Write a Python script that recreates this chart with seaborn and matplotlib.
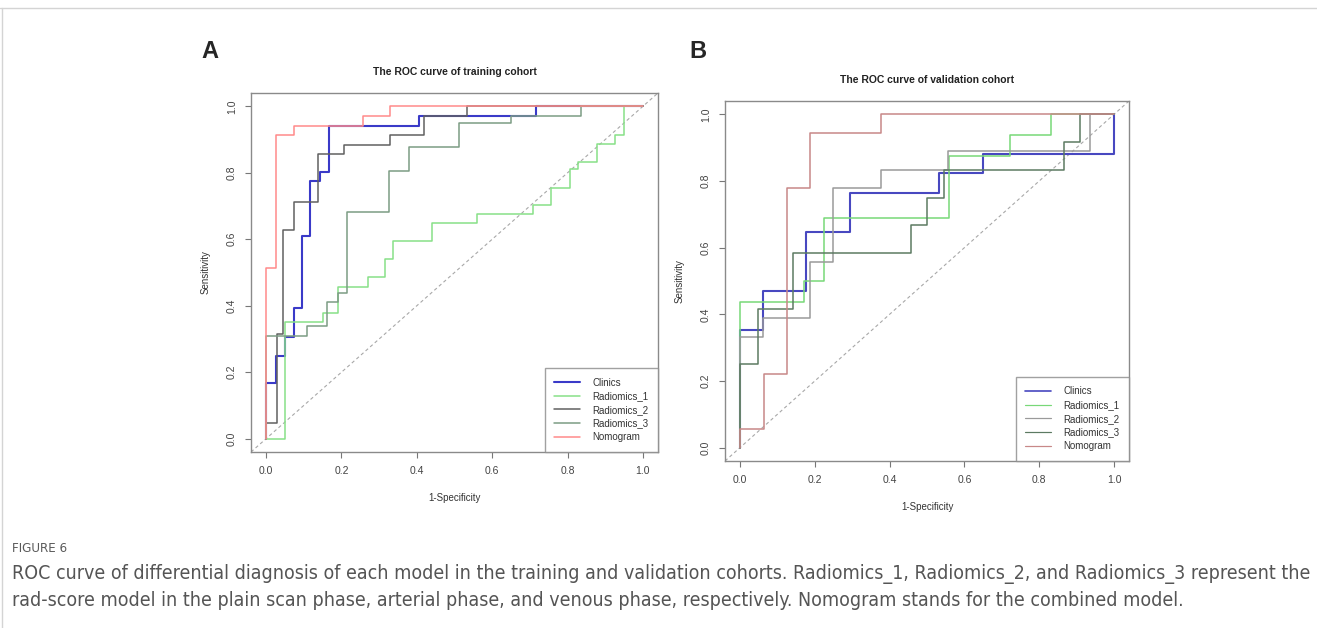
import matplotlib
matplotlib.use("Agg")
import matplotlib.pyplot as plt
from matplotlib.lines import Line2D
from matplotlib import font_manager
import pandas as pd
import seaborn as sns

models = ["Clinics", "Radiomics_1", "Radiomics_2", "Radiomics_3", "Nomogram"]

# Training cohort: corner points of each ROC staircase (1-specificity, sensitivity)
train_clinics_fpr = [0, 0, 0.026, 0.049, 0.073, 0.095, 0.117, 0.143, 0.167, 0.406, 0.715, 1.0]
train_clinics_tpr = [0, 0.168, 0.250, 0.307, 0.392, 0.610, 0.775, 0.803, 0.941, 0.971, 1.0, 1.0]
train_rad1_fpr = [0, 0.050, 0.152, 0.192, 0.270, 0.316, 0.338, 0.440, 0.560, 0.707, 0.756,
                  0.806, 0.829, 0.877, 0.927, 0.950, 1.0]
train_rad1_tpr = [0, 0.350, 0.377, 0.457, 0.487, 0.540, 0.595, 0.650, 0.676, 0.703, 0.755,
                  0.811, 0.833, 0.888, 0.915, 1.0, 1.0]
train_rad2_fpr = [0, 0, 0.028, 0.046, 0.073, 0.139, 0.208, 0.329, 0.420, 0.534, 1.0]
train_rad2_tpr = [0, 0.047, 0.314, 0.628, 0.713, 0.855, 0.883, 0.913, 0.970, 1.0, 1.0]
train_rad3_fpr = [0, 0, 0.108, 0.161, 0.190, 0.216, 0.325, 0.378, 0.513, 0.650, 0.837, 1.0]
train_rad3_tpr = [0, 0.310, 0.340, 0.412, 0.437, 0.683, 0.805, 0.878, 0.950, 0.971, 1.0, 1.0]
train_nomo_fpr = [0, 0, 0.026, 0.073, 0.256, 0.329, 1.0]
train_nomo_tpr = [0, 0.513, 0.913, 0.941, 0.971, 1.0, 1.0]

# Validation cohort
valid_clinics_fpr = [0, 0, 0.062, 0.176, 0.295, 0.533, 0.649, 1.0]
valid_clinics_tpr = [0, 0.353, 0.471, 0.647, 0.765, 0.824, 0.882, 1.0]
valid_rad1_fpr = [0, 0, 0.170, 0.224, 0.558, 0.723, 0.832, 1.0]
valid_rad1_tpr = [0, 0.4375, 0.500, 0.6875, 0.875, 0.9375, 1.0, 1.0]
valid_rad2_fpr = [0, 0, 0.062, 0.187, 0.250, 0.377, 0.555, 0.937, 1.0]
valid_rad2_tpr = [0, 0.333, 0.389, 0.556, 0.778, 0.833, 0.889, 1.0, 1.0]
valid_rad3_fpr = [0, 0, 0.049, 0.141, 0.457, 0.500, 0.546, 0.867, 0.910, 1.0]
valid_rad3_tpr = [0, 0.250, 0.417, 0.583, 0.667, 0.750, 0.833, 0.917, 1.0, 1.0]
valid_nomo_fpr = [0, 0, 0.063, 0.126, 0.188, 0.377, 1.0]
valid_nomo_tpr = [0, 0.056, 0.222, 0.778, 0.944, 1.0, 1.0]

train_curves = {
    "Clinics": (train_clinics_fpr, train_clinics_tpr),
    "Radiomics_1": (train_rad1_fpr, train_rad1_tpr),
    "Radiomics_2": (train_rad2_fpr, train_rad2_tpr),
    "Radiomics_3": (train_rad3_fpr, train_rad3_tpr),
    "Nomogram": (train_nomo_fpr, train_nomo_tpr),
}
valid_curves = {
    "Clinics": (valid_clinics_fpr, valid_clinics_tpr),
    "Radiomics_1": (valid_rad1_fpr, valid_rad1_tpr),
    "Radiomics_2": (valid_rad2_fpr, valid_rad2_tpr),
    "Radiomics_3": (valid_rad3_fpr, valid_rad3_tpr),
    "Nomogram": (valid_nomo_fpr, valid_nomo_tpr),
}

train_palette = {"Clinics": "#3a3ac8", "Radiomics_1": "#88e088", "Radiomics_2": "#606060",
                 "Radiomics_3": "#7c9c84", "Nomogram": "#ff8a8a"}
valid_palette = {"Clinics": "#4848c0", "Radiomics_1": "#78d878", "Radiomics_2": "#9a9a9a",
                 "Radiomics_3": "#5c7a62", "Nomogram": "#c88888"}
line_widths = {"Clinics": 1.5, "Radiomics_1": 1.1, "Radiomics_2": 1.1,
               "Radiomics_3": 1.1, "Nomogram": 1.1}


def to_frame(curves):
    rows = []
    for name in models:
        fpr, tpr = curves[name]
        for x, y in zip(fpr, tpr):
            rows.append({"model": name, "fpr": x, "tpr": y})
    return pd.DataFrame(rows)


sns.set_style("white")
plt.rcParams["font.family"] = ["Liberation Sans", "DejaVu Sans"]

W, H = 1317, 628
fig = plt.figure(figsize=(W / 100, H / 100), dpi=100)


def px_axes(left, top, right, bottom):
    return [left / W, 1 - bottom / H, (right - left) / W, (bottom - top) / H]


axA = fig.add_axes(px_axes(251, 93, 658, 452))
axB = fig.add_axes(px_axes(725, 101, 1129, 461))


def draw_panel(ax, curves, palette, title, legend_scale):
    ax.plot([-0.04, 1.04], [-0.04, 1.04], ls=(0, (3, 2.5)), color="#a8a8a8", lw=0.8, zorder=1)
    df = to_frame(curves)
    sns.lineplot(data=df, x="fpr", y="tpr", hue="model", hue_order=models,
                 palette=palette, sort=False, estimator=None,
                 drawstyle="steps-post", ax=ax, legend=False)
    for line in ax.lines[1:]:
        for name in models:
            if matplotlib.colors.same_color(line.get_color(), palette[name]):
                line.set_linewidth(line_widths[name])
    ax.set_xlim(-0.04, 1.04)
    ax.set_ylim(-0.04, 1.04)
    ticks = [0.0, 0.2, 0.4, 0.6, 0.8, 1.0]
    ax.set_xticks(ticks)
    ax.set_yticks(ticks)
    ax.set_xticklabels([f"{t:.1f}" for t in ticks])
    ax.set_yticklabels([f"{t:.1f}" for t in ticks], rotation=90, va="center")
    ax.tick_params(axis="both", length=4, width=0.8, color="#777777", labelsize=7.5,
                   labelcolor="#444444", pad=6, bottom=True, left=True)
    for s in ax.spines.values():
        s.set_color("#8a8a8a")
        s.set_linewidth(1.0)
    ax.set_xlabel("1-Specificity", fontsize=7, color="#333333")
    ax.set_ylabel("Sensitivity", fontsize=7, color="#333333")
    ax.xaxis.set_label_coords(0.5, -0.115)
    ax.yaxis.set_label_coords(-0.10, 0.5)
    ax.set_title(title, fontsize=7.5, fontweight="bold", color="#222222", pad=13)
    handles = [Line2D([], [], color=palette[m], lw=line_widths[m] * legend_scale) for m in models]
    leg = ax.legend(handles, models, loc="lower right", frameon=True, fancybox=False,
                    edgecolor="#8a8a8a", fontsize=7, borderaxespad=0, handlelength=2.6,
                    handletextpad=1.3, borderpad=1.0, labelspacing=0.38)
    leg.get_frame().set_linewidth(1.0)
    for t in leg.get_texts():
        t.set_color("#333333")


draw_panel(axA, train_curves, train_palette, "The ROC curve of training cohort", 1.0)
draw_panel(axB, valid_curves, valid_palette, "The ROC curve of validation cohort", 0.8)

fig.text(210 / W, 1 - 52 / H, "A", fontsize=17, fontweight="bold", ha="center", va="center")
fig.text(698 / W, 1 - 52 / H, "B", fontsize=17, fontweight="bold", ha="center", va="center")

# page frame lines
fig.add_artist(Line2D([0, 1], [1 - 8 / H, 1 - 8 / H], color="#d4d4d4", lw=1))
fig.add_artist(Line2D([1.5 / W, 1.5 / W], [0, 1 - 8 / H], color="#d4d4d4", lw=1))


# caption face: a regular-weight narrow face if one is installed, else Open Sans
def pick_caption_font():
    best = None
    for f in font_manager.fontManager.ttflist:
        name = f.name + " " + str(f.fname)
        narrowish = ("Condensed" in name or "Narrow" in name or
                     f.stretch not in ("normal", 500))
        if not narrowish or "Italic" in name or f.style != "normal":
            continue
        w = f.weight if isinstance(f.weight, int) else {"light": 300, "normal": 400,
                                                          "regular": 400}.get(f.weight, 700)
        if w > 400:
            continue
        score = abs(w - 400)
        if best is None or score < best[0]:
            best = (score, f.fname)
    if best is not None:
        return font_manager.FontProperties(fname=best[1])
    return font_manager.FontProperties(family=["Open Sans", "DejaVu Sans"])


cap_props = pick_caption_font()
fig.text(12 / W, 1 - 549 / H, "FIGURE 6", color="#5a5a5a", va="center",
         fontproperties=cap_props, fontsize=9.5)
line1 = ("ROC curve of differential diagnosis of each model in the training and validation "
         "cohorts. Radiomics_1, Radiomics_2, and Radiomics_3 represent the")
line2 = ("rad-score model in the plain scan phase, arterial phase, and venous phase, "
         "respectively. Nomogram stands for the combined model.")
t1 = fig.text(12 / W, 1 - 574 / H, line1, color="#555555", va="center",
              fontproperties=cap_props, fontsize=12)
t2 = fig.text(12 / W, 1 - 601 / H, line2, color="#555555", va="center",
              fontproperties=cap_props, fontsize=12)
fig.canvas.draw()
w1 = t1.get_window_extent().width
fs = 12 * (1303 - 12) / w1
t1.set_fontsize(fs)
t2.set_fontsize(fs)

fig.savefig("out.png", dpi=100)
